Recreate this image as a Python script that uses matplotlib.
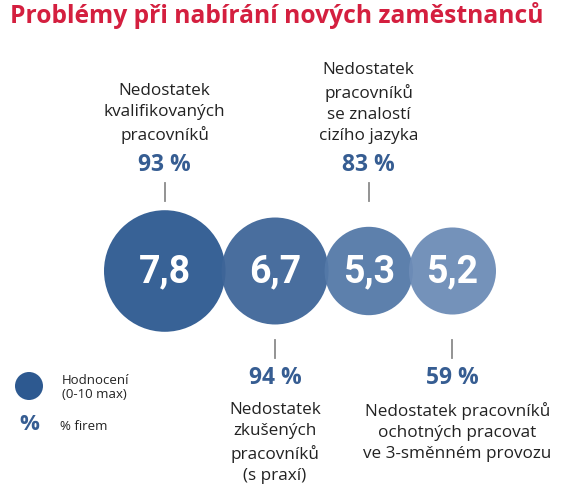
import matplotlib.pyplot as plt
from matplotlib.patches import Circle

# data
ratings = [7.8, 6.7, 5.3, 5.2]
rating_labels = ["7,8", "6,7", "5,3", "5,2"]
shares = [93, 94, 83, 59]
categories = [
    "Nedostatek\nkvalifikovaných\npracovníků",
    "Nedostatek\nzkušených\npracovníků\n(s praxí)",
    "Nedostatek\npracovníků\nse znalostí\ncizího jazyka",
    "Nedostatek pracovníků\nochotných pracovat\nve 3-směnném provozu",
]
colors = ["#2d5990", "#3f6699", "#5479a8", "#6d8cb7"]
label_side = ["top", "bottom", "top", "bottom"]

BLUE = "#365d92"
RED = "#d41f3f"
FONT = "Open Sans"
NUM_FONT = "Roboto"

fig = plt.figure(figsize=(5.75, 4.97), dpi=100)
ax = fig.add_axes([0, 0, 1, 1])
ax.set_xlim(0, 575)
ax.set_ylim(497, 0)
ax.set_aspect("equal")
ax.axis("off")

# radius scale and packing of circles along a row
radii = [9 + 6.64 * v for v in ratings]
cy = 271
overlap = 4
xs = []
x = 104
for r in radii:
    xs.append(x + r)
    x = x + 2 * r - overlap

for i, (cx, r) in enumerate(zip(xs, radii)):
    ax.add_patch(Circle((cx, cy), r, color=colors[i], alpha=0.95, lw=0, zorder=2 + i))
    ax.text(cx, cy + 1, rating_labels[i], color="white", fontsize=27, fontweight="bold",
            family=NUM_FONT, ha="center", va="center", zorder=10)
    if label_side[i] == "top":
        ax.plot([cx, cx], [183, 201], color="#8a8a8a", lw=1.3)
        ax.text(cx, 165, f"{shares[i]} %", color=BLUE, fontsize=16.5, fontweight="bold",
                family=FONT, ha="center", va="center")
        ax.text(cx, 144, categories[i], ha="center", va="bottom", fontsize=12.3,
                family=FONT, color="#222222", linespacing=1.42)
    else:
        ax.plot([cx, cx], [340, 358], color="#8a8a8a", lw=1.3)
        ax.text(cx, 378, f"{shares[i]} %", color=BLUE, fontsize=16.5, fontweight="bold",
                family=FONT, ha="center", va="center")
        ax.text(cx + (5 if i == 3 else 0), 402, categories[i], ha="center", va="top", fontsize=12.3,
                family=FONT, color="#222222", linespacing=1.42)

# title
fig.text(0.017, 0.968, "Problémy při nabírání nových zaměstnanců", color=RED,
         fontsize=17.7, fontweight="bold", family=FONT, ha="left", va="center")

# legend
ax.add_patch(Circle((29, 386), 14, color=colors[0], lw=0))
ax.text(62, 388, "Hodnocení\n(0-10 max)", fontsize=9.5, family=FONT, va="center",
        color="#222222", linespacing=1.1)
ax.text(29, 425, "%", color=BLUE, fontsize=16, fontweight="bold", family=FONT,
        ha="center", va="center")
ax.text(60, 427, "% firem", fontsize=9.5, family=FONT, va="center", color="#222222")

fig.savefig("out.png", dpi=100)
